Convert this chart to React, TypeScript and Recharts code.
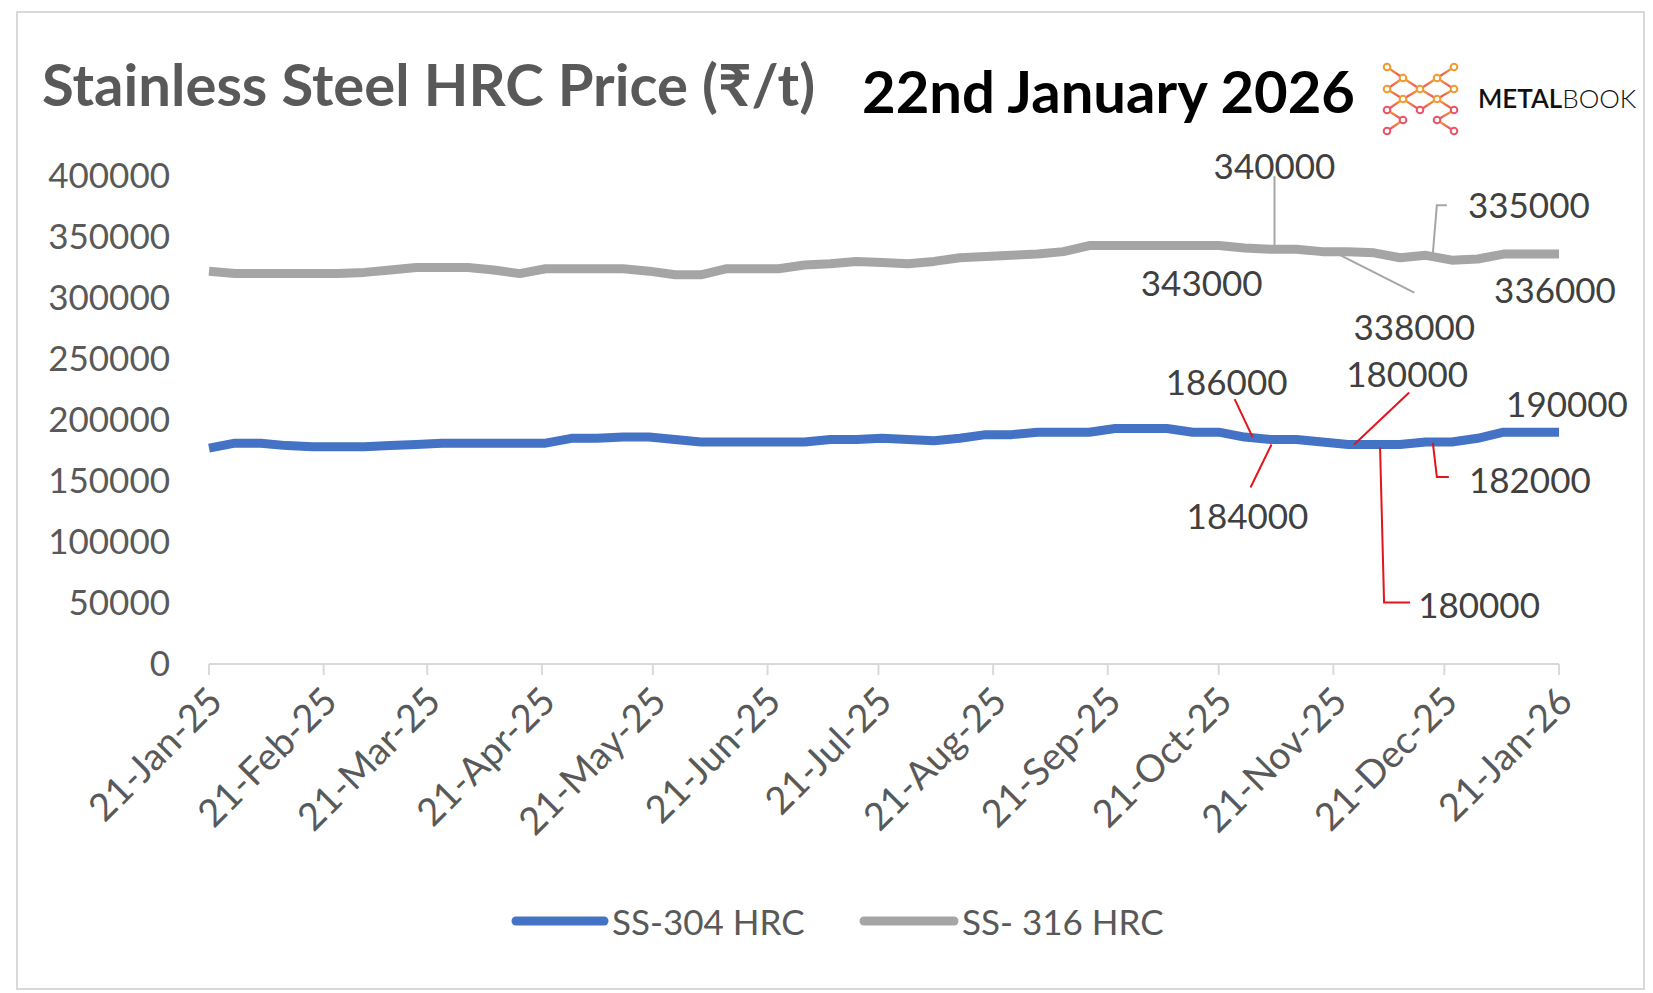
import React from 'react';
import { LineChart, Line, XAxis, YAxis } from 'recharts';

// weekly price points, 21-Jan-25 .. 21-Jan-26
const dates = [
    '2025-01-21', '2025-01-28', '2025-02-04', '2025-02-11', '2025-02-18', '2025-02-25',
    '2025-03-04', '2025-03-11', '2025-03-18', '2025-03-25', '2025-04-01', '2025-04-08',
    '2025-04-15', '2025-04-22', '2025-04-29', '2025-05-06', '2025-05-13', '2025-05-20',
    '2025-05-27', '2025-06-03', '2025-06-10', '2025-06-17', '2025-06-24', '2025-07-01',
    '2025-07-08', '2025-07-15', '2025-07-22', '2025-07-29', '2025-08-05', '2025-08-12',
    '2025-08-19', '2025-08-26', '2025-09-02', '2025-09-09', '2025-09-16', '2025-09-23',
    '2025-09-30', '2025-10-07', '2025-10-14', '2025-10-21', '2025-10-28', '2025-11-04',
    '2025-11-11', '2025-11-18', '2025-11-25', '2025-12-02', '2025-12-09', '2025-12-16',
    '2025-12-23', '2025-12-30', '2026-01-06', '2026-01-13', '2026-01-21',
];

const ss304 = [
    177000, 181000, 181000, 179000, 178000, 178000, 178000, 179000, 180000, 181000,
    181000, 181000, 181000, 181000, 185000, 185000, 186000, 186000, 184000, 182000,
    182000, 182000, 182000, 182000, 184000, 184000, 185000, 184000, 183000, 185000,
    188000, 188000, 190000, 190000, 190000, 193000, 193000, 193000, 190000, 190000,
    186000, 184000, 184000, 182000, 180000, 180000, 180000, 182000, 182000, 185000,
    190000, 190000, 190000,
];

const ss316 = [
    322000, 320000, 320000, 320000, 320000, 320000, 321000, 323000, 325000, 325000,
    325000, 323000, 320000, 324000, 324000, 324000, 324000, 322000, 319000, 319000,
    324000, 324000, 324000, 327000, 328000, 330000, 329000, 328000, 330000, 333000,
    334000, 335000, 336000, 338000, 343000, 343000, 343000, 343000, 343000, 343000,
    341000, 340000, 340000, 338000, 338000, 337000, 333000, 335000, 331000, 332000,
    336000, 336000, 336000,
];

const monthTicks = [
    '2025-01-21', '2025-02-21', '2025-03-21', '2025-04-21', '2025-05-21', '2025-06-21',
    '2025-07-21', '2025-08-21', '2025-09-21', '2025-10-21', '2025-11-21', '2025-12-21',
    '2026-01-21',
];

const yTicks = [0, 50000, 100000, 150000, 200000, 250000, 300000, 350000, 400000];

const MONTHS = ['Jan', 'Feb', 'Mar', 'Apr', 'May', 'Jun', 'Jul', 'Aug', 'Sep', 'Oct', 'Nov', 'Dec'];

const toTime = (s: string) => Date.parse(s + 'T00:00:00Z');

const fmtDate = (t: number) => {
    const d = new Date(t);
    return `${d.getUTCDate()}-${MONTHS[d.getUTCMonth()]}-${String(d.getUTCFullYear()).slice(2)}`;
};

// which points carry a value label, and where the text / leader sits relative to the point
type Note = { index: number; dx: number; dy: number; leader?: number[][] };

const notes304: Note[] = [
    { index: 40, dx: -18, dy: -56, leader: [[-10, -38], [8, 0]] },
    { index: 41, dx: -23, dy: 75, leader: [[-20, 48], [1, 5]] },
    { index: 44, dx: 59, dy: -71, leader: [[61, -52], [6, 0]] },
    { index: 45, dx: 105, dy: 160, leader: [[6, 3], [10, 158], [36, 158]] },
    { index: 47, dx: 104, dy: 37, leader: [[7, 1], [11, 35], [23, 35]] },
    { index: 52, dx: 8, dy: -29 },
];

const notes316: Note[] = [
    { index: 39, dx: -17, dy: 36 },
    { index: 41, dx: 4, dy: -84, leader: [[4, -73], [4, -2]] },
    { index: 43, dx: 92, dy: 74, leader: [[11, 0], [92, 41]] },
    { index: 47, dx: 103, dy: -51, leader: [[7, -2], [11, -50], [21, -50]] },
    { index: 52, dx: -4, dy: 35 },
];

const data = dates.map((d, i) => ({ t: toTime(d), ss304: ss304[i], ss316: ss316[i] }));

const FONT = 'Lato, "Open Sans", sans-serif';
const TEXT = '#595959';

const makeDot = (notes: Note[], values: number[], leaderColor: string) => (props: any) => {
    const { cx, cy, index } = props;
    const note = notes.find((n) => n.index === index);
    if (!note || cx == null || cy == null) return <g key={`d${index}`} />;
    return (
        <g key={`d${index}`}>
            {note.leader && (
                <polyline
                    points={note.leader.map(([px, py]) => `${cx + px},${cy + py}`).join(' ')}
                    fill="none"
                    stroke={leaderColor}
                    strokeWidth={2}
                />
            )}
            <text
                x={cx + note.dx}
                y={cy + note.dy}
                textAnchor="middle"
                dominantBaseline="central"
                fontFamily={FONT}
                fontSize={35}
                fill="#404040"
            >
                {values[index]}
            </text>
        </g>
    );
};

const XTick = ({ x, y, payload }: any) => (
    <text
        x={x + 5}
        y={y + 16}
        transform={`rotate(-45 ${x + 5} ${y + 16})`}
        textAnchor="end"
        dominantBaseline="central"
        fontFamily={FONT}
        fontSize={38}
        fill={TEXT}
    >
        {fmtDate(payload.value)}
    </text>
);

const nodes = [
    [1387, 67], [1403, 78], [1387, 89], [1403, 99], [1420, 89], [1437, 78], [1454, 67],
    [1454, 89], [1437, 99], [1420, 110], [1387, 110], [1403, 120], [1387, 131],
    [1454, 110], [1437, 120], [1454, 131],
];
const edges = [
    [0, 1], [0, 2], [1, 2], [1, 3], [2, 3], [1, 4], [3, 4], [4, 5], [4, 8], [5, 8],
    [5, 6], [6, 7], [5, 7], [7, 8], [3, 9], [8, 9], [2, 10], [3, 10], [10, 11], [10, 12],
    [11, 12], [7, 13], [8, 13], [13, 14], [13, 15], [14, 15],
];

function Logo() {
    return (
        <g>
            <defs>
                <linearGradient id="mb" x1="0" y1="0" x2="0" y2="1">
                    <stop offset="0%" stopColor="#f7a823" />
                    <stop offset="100%" stopColor="#e8426f" />
                </linearGradient>
            </defs>
            <g stroke="url(#mb)" strokeWidth={2.2} fill="none">
                {edges.map(([a, b], i) => (
                    <line key={i} x1={nodes[a][0]} y1={nodes[a][1]} x2={nodes[b][0]} y2={nodes[b][1]} />
                ))}
            </g>
            {nodes.map(([nx, ny], i) => (
                <circle key={i} cx={nx} cy={ny} r={3.3} fill="#fff" stroke={ny < 100 ? '#f39a2c' : '#ea5467'} strokeWidth={2} />
            ))}
            <text x={1478} y={108} fontFamily={FONT} fontSize={26} fill="#111">
                <tspan fontWeight={600}>METAL</tspan>
                <tspan fontWeight={300}>BOOK</tspan>
            </text>
        </g>
    );
}

export default function App() {
    return (
        <div style={{ position: 'relative', width: 1653, height: 993, background: '#fff', fontFamily: FONT }}>
            <style>{'body{margin:0}'}</style>
            <div
                style={{
                    position: 'absolute', left: 16, top: 11, width: 1625, height: 975,
                    border: '2px solid #d9d9d9',
                }}
            />
            <div style={{ position: 'absolute', left: 0, top: 0 }}>
                <LineChart width={1653} height={993} data={data} margin={{ top: 176, right: 94, bottom: 299, left: 0 }}>
                    <XAxis
                        dataKey="t"
                        type="number"
                        domain={[toTime(dates[0]), toTime(dates[dates.length - 1])]}
                        ticks={monthTicks.map(toTime)}
                        tick={<XTick />}
                        height={30}
                        tickSize={11}
                        axisLine={{ stroke: '#d9d9d9', strokeWidth: 2 }}
                        tickLine={{ stroke: '#d9d9d9', strokeWidth: 2 }}
                        interval={0}
                    />
                    <YAxis
                        type="number"
                        domain={[0, 400000]}
                        ticks={yTicks}
                        width={209}
                        axisLine={false}
                        tickLine={false}
                        tickSize={0}
                        tickMargin={39}
                        interval={0}
                        tick={{ fill: TEXT, fontSize: 35, fontFamily: FONT }}
                    />
                    <Line
                        dataKey="ss316"
                        type="linear"
                        stroke="#a5a5a5"
                        strokeWidth={9}
                        strokeLinejoin="round"
                        dot={makeDot(notes316, ss316, '#a6a6a6')}
                        activeDot={false}
                        isAnimationActive={false}
                    />
                    <Line
                        dataKey="ss304"
                        type="linear"
                        stroke="#4472c4"
                        strokeWidth={9}
                        strokeLinejoin="round"
                        dot={makeDot(notes304, ss304, '#e3141b')}
                        activeDot={false}
                        isAnimationActive={false}
                    />
                </LineChart>
            </div>
            <svg width={1653} height={993} style={{ position: 'absolute', left: 0, top: 0, pointerEvents: 'none' }}>
                <text x={42} y={106} fontFamily={FONT} fontWeight={700} fontSize={58} fill={TEXT}>
                    Stainless Steel HRC Price (₹/t)
                </text>
                <text x={862} y={113} fontFamily={FONT} fontWeight={700} fontSize={58} fill="#000">
                    22nd January 2026
                </text>
                <Logo />
                <line x1={516} y1={921} x2={604} y2={921} stroke="#4472c4" strokeWidth={9} strokeLinecap="round" />
                <text x={612} y={921} dominantBaseline="central" fontFamily={FONT} fontSize={35} fill={TEXT}>
                    SS-304 HRC
                </text>
                <line x1={864} y1={921} x2={954} y2={921} stroke="#a5a5a5" strokeWidth={9} strokeLinecap="round" />
                <text x={962} y={921} dominantBaseline="central" fontFamily={FONT} fontSize={35} fill={TEXT}>
                    SS- 316 HRC
                </text>
            </svg>
        </div>
    );
}
